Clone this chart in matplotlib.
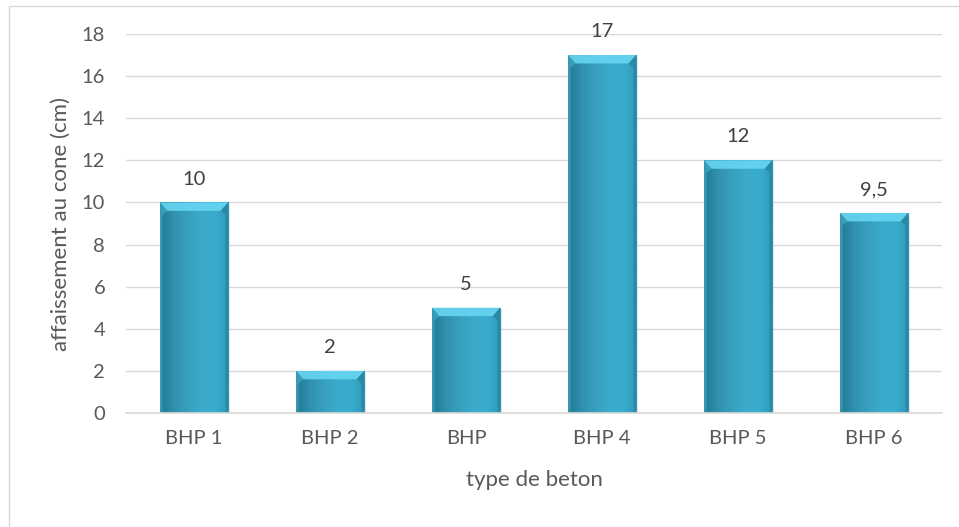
import numpy as np
import matplotlib.pyplot as plt
from matplotlib.patches import Rectangle, Polygon
from matplotlib.colors import LinearSegmentedColormap

plt.rcParams['font.family'] = ['Lato', 'DejaVu Sans']

# affaissement au cone par type de beton
categories = ['BHP 1', 'BHP 2', 'BHP', 'BHP 4', 'BHP 5', 'BHP 6']
slump = [10, 2, 5, 17, 12, 9.5]
value_labels = ['10', '2', '5', '17', '12', '9,5']

text_grey = '#595959'
bar_width = 0.5

fig = plt.figure(figsize=(9.59, 5.27), dpi=100)
ax = fig.add_axes([0.1314, 0.2163, 0.8510, 0.7192])

# thin frame around the chart area
fig.patches.append(Rectangle((9 / 959, -0.01), 1.0, 1 - 6 / 527 + 0.01,
                             transform=fig.transFigure, fill=False,
                             edgecolor='#d9d9d9', linewidth=1.0, zorder=0))

x = np.arange(len(categories))
bars = ax.bar(x, slump, width=bar_width, color='#3BB8DC',
              edgecolor='#236f85', linewidth=0.5, zorder=2)

# mostly vertical shading, slightly darker towards the sides
cmap = LinearSegmentedColormap.from_list(
    'bev', ['#34A9CB', '#3EBCE0', '#42C0E4', '#42C0E4', '#3CB7DB', '#3099B8'])
grad_h = np.linspace(0, 1, 64)[None, :]
grad_v = np.linspace(0.72, 1.0, 64)[:, None]
for b in bars:
    x0, w, h = b.get_x(), b.get_width(), b.get_height()
    # soft shadow to the right
    ax.add_patch(Rectangle((x0 + 0.012, -0.08), w, h, facecolor='#bfbfbf',
                           edgecolor='none', alpha=0.4, zorder=1.5))
    rgba = cmap(np.repeat(grad_h, 64, axis=0))
    rgba[..., :3] *= grad_v
    im = ax.imshow(rgba, extent=[x0, x0 + w, 0, h], origin='lower',
                   aspect='auto', zorder=2.5, interpolation='bilinear')
    im.set_clip_path(b)
    # bevel on the top face and the thin side faces
    d = 0.11 * w
    s = 0.035 * w
    dy = 0.4
    ax.add_patch(Polygon([[x0, h], [x0 + w, h], [x0 + w - d, h - dy], [x0 + d, h - dy]],
                         closed=True, facecolor='#66D6F2', edgecolor='none',
                         alpha=0.9, zorder=3))
    ax.add_patch(Polygon([[x0, h], [x0 + d, h - dy], [x0 + s, h - dy - 0.2], [x0 + s, 0], [x0, 0]],
                         closed=True, facecolor='#55CBEA', edgecolor='none',
                         alpha=0.4, zorder=3))
    ax.add_patch(Polygon([[x0 + w, h], [x0 + w - d, h - dy], [x0 + w - s, h - dy - 0.2],
                          [x0 + w - s, 0], [x0 + w, 0]],
                         closed=True, facecolor='#1f6d83', edgecolor='none',
                         alpha=0.4, zorder=3))

for xi, v, lab in zip(x, slump, value_labels):
    ax.text(xi, v + 0.85, lab, ha='center', va='baseline',
            fontsize=14.5, color='#404040', zorder=4)

ax.set_xlim(-0.5, len(categories) - 0.5)
ax.set_ylim(0, 18)
ax.set_yticks(np.arange(0, 19, 2))
ax.set_xticks(x)
ax.set_xticklabels(categories)
ax.tick_params(axis='both', length=0, labelsize=14.5, labelcolor=text_grey)
ax.tick_params(axis='x', pad=12)
ax.tick_params(axis='y', pad=15)
ax.grid(axis='y', color='#d9d9d9', linewidth=1.0, zorder=0)
ax.set_axisbelow(True)
for sp in ['top', 'right', 'left']:
    ax.spines[sp].set_visible(False)
ax.spines['bottom'].set_color('#d9d9d9')
ax.spines['bottom'].set_linewidth(1.2)
ax.spines['bottom'].set_zorder(3.5)

ax.set_xlabel('type de beton', fontsize=16, color=text_grey, labelpad=17)
ax.set_ylabel('affaissement au cone (cm)', fontsize=16, color=text_grey, labelpad=8)

fig.savefig('out.png', dpi=100)
